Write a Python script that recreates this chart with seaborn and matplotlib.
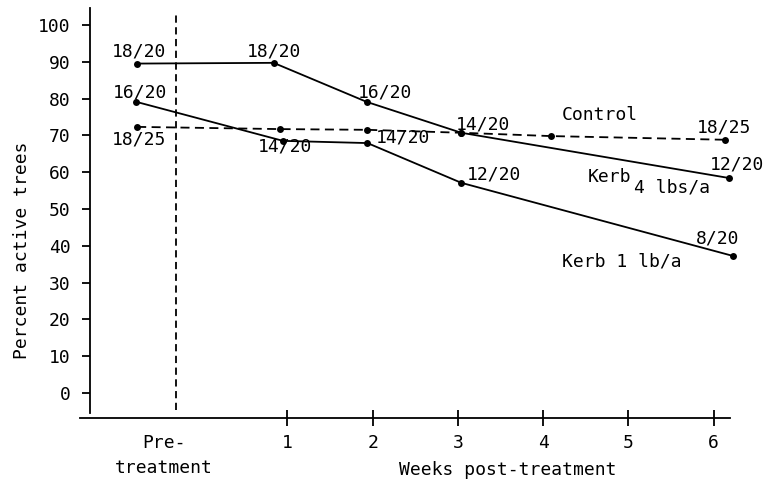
import matplotlib
matplotlib.use('Agg')
import matplotlib.pyplot as plt
import seaborn as sns
import pandas as pd

# weeks (pre-treatment plotted left of week 0)
kerb4_weeks = [-0.76, 0.84, 1.93, 3.04, 6.18]
kerb4_pct = [89.5, 89.7, 79.1, 70.7, 58.4]
kerb4_frac = ["18/20", "18/20", "16/20", "14/20", "12/20"]

kerb1_weeks = [-0.77, 0.95, 1.94, 3.04, 6.23]
kerb1_pct = [79.1, 68.5, 67.9, 57.1, 37.2]
kerb1_frac = ["16/20", "14/20", "14/20", "12/20", "8/20"]

control_weeks = [-0.76, 0.91, 1.94, 3.04, 4.09, 6.13]
control_pct = [72.3, 71.7, 71.5, 70.7, 69.8, 68.8]
control_frac = ["18/25", None, None, None, None, "18/25"]

week_ticks = [1, 2, 3, 4, 5, 6]
pct_ticks = list(range(0, 101, 10))

sns.set_theme(style="white")
plt.rcParams['font.family'] = ['DejaVu Sans Mono', 'DejaVu Sans']
plt.rcParams['text.color'] = 'black'
plt.rcParams['axes.labelcolor'] = 'black'
FS = 13

fig = plt.figure(figsize=(7.67, 4.82), dpi=100)
ax = fig.add_axes([80 / 767, 64 / 482, 650 / 767, 410 / 482])

kerb4 = pd.DataFrame({"week": kerb4_weeks, "pct": kerb4_pct})
kerb1 = pd.DataFrame({"week": kerb1_weeks, "pct": kerb1_pct})
control = pd.DataFrame({"week": control_weeks, "pct": control_pct})

line_kw = dict(color="black", marker="o", markersize=5, markeredgewidth=0,
               linewidth=1.3, clip_on=False, legend=False)
sns.lineplot(data=kerb4, x="week", y="pct", ax=ax, **line_kw)
sns.lineplot(data=kerb1, x="week", y="pct", ax=ax, **line_kw)
sns.lineplot(data=control, x="week", y="pct", ax=ax, linestyle="--", **line_kw)
ax.lines[-1].set_dashes((5, 3))

# treatment divider
ax.axvline(-0.31, ymin=0.02, ymax=0.99, color="black", linewidth=1.3,
           dashes=(4, 2.5))

# fraction labels, offsets in points from each marker
kerb4_off = [(-18, 9), (-19, 8), (-6, 7), (-4, 6), (-14, 10)]
kerb1_off = [(-17, 7), (-18, -4), (6, 4), (4, 6), (-27, 13)]
control_off = [(-18, -9), None, None, None, None, (-20, 9)]
for weeks, pcts, fracs, offs in [
    (kerb4_weeks, kerb4_pct, kerb4_frac, kerb4_off),
    (kerb1_weeks, kerb1_pct, kerb1_frac, kerb1_off),
    (control_weeks, control_pct, control_frac, control_off),
]:
    for wx, py, lab, off in zip(weeks, pcts, fracs, offs):
        if lab is None:
            continue
        ax.annotate(lab, (wx, py), xytext=off, textcoords="offset points",
                    ha="left", va="center", fontsize=FS, annotation_clip=False)

# series names
ax.text(4.22, 75.5, "Control", ha="left", va="center", fontsize=FS)
ax.text(4.52, 58.7, "Kerb", ha="left", va="center", fontsize=FS)
ax.text(5.06, 55.7, "4 lbs/a", ha="left", va="center", fontsize=FS)
ax.text(4.22, 35.6, "Kerb 1 lb/a", ha="left", va="center", fontsize=FS)

ax.set_xlim(-1.43, 6.19)
ax.set_ylim(-6.8, 104.6)
ax.set_xticks(week_ticks)
ax.set_xticklabels([str(w) for w in week_ticks])
ax.set_yticks(pct_ticks)
ax.set_yticklabels([str(p) for p in pct_ticks])
ax.set_xlabel("")
ax.set_ylabel("")

for s in ["top", "right"]:
    ax.spines[s].set_visible(False)
ax.spines["left"].set_position(("data", -1.31))
ax.spines["left"].set_bounds(-5.4, 104.6)
for s in ["left", "bottom"]:
    ax.spines[s].set_linewidth(1.3)
    ax.spines[s].set_color("black")

ax.tick_params(axis="y", direction="out", length=6, width=1.3, pad=8,
               colors="black", left=True, labelsize=FS)
ax.tick_params(axis="x", direction="inout", length=11, width=1.3, pad=6,
               colors="black", bottom=True, labelsize=FS)

fig.text(22 / 767, 1 - 250 / 482, "Percent active trees", rotation=90,
         ha="center", va="center", fontsize=FS)
fig.text(164 / 767, 1 - 455.5 / 482, "Pre-\ntreatment", ha="center",
         va="center", fontsize=FS, linespacing=1.45)
fig.text(508 / 767, 1 - 470 / 482, "Weeks post-treatment", ha="center",
         va="center", fontsize=FS)

fig.savefig("out.png", dpi=100, facecolor="white")
